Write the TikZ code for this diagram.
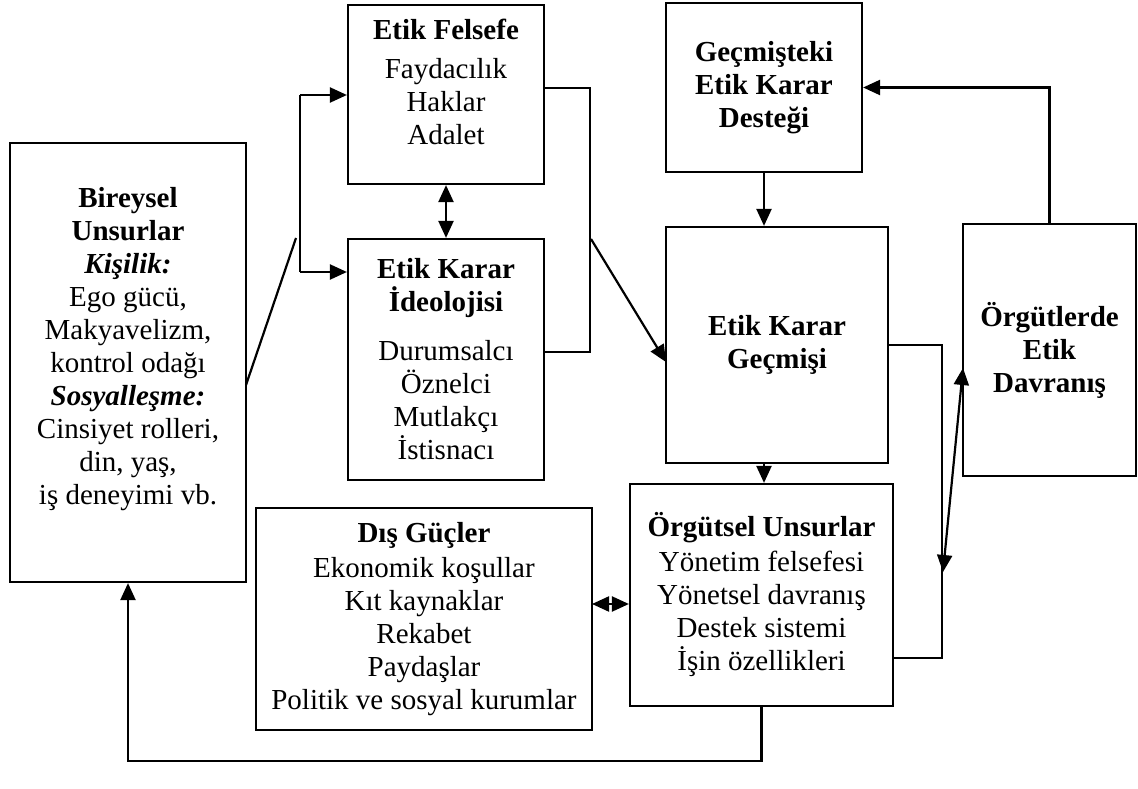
\documentclass[tikz,border=0pt]{standalone}
\usepackage{fontspec}
\setmainfont{Liberation Serif}
\usetikzlibrary{arrows.meta,positioning,calc}

\begin{document}
\begin{tikzpicture}[x=1pt, y=-1pt,
  every node/.style={font=\fontsize{29}{33}\selectfont},
  kutu/.style={draw, line width=2.2pt, align=center, inner sep=0pt},
  hat/.style={line width=2.2pt},
  ok/.style={line width=2.2pt, -{Triangle[length=17pt, width=15pt]}},
  ciftok/.style={line width=2.2pt, {Triangle[length=17pt, width=15pt]}-{Triangle[length=17pt, width=15pt]}}]

  \useasboundingbox (0,0) rectangle (1138,789);

  % ---- Boxes ----
  % Left: individual factors
  \node[kutu, minimum width=236pt, minimum height=439pt] (bireysel) at (128,362.5)
    {\textbf{Bireysel}\\ \textbf{Unsurlar}\\ \textbf{\textit{Kişilik:}}\\ Ego gücü,\\ Makyavelizm,\\
     kontrol odağı\\ \textbf{\textit{Sosyalleşme:}}\\ Cinsiyet rolleri,\\ din, yaş,\\ iş deneyimi vb.\\ \mbox{}};

  % Middle column
  \node[kutu, minimum width=196pt, minimum height=179pt] (felsefe) at (446,94.5)
    {\textbf{Etik Felsefe}\\[6pt] Faydacılık\\ Haklar\\ Adalet\\[-8pt] \mbox{}};
  \node[kutu, minimum width=196pt, minimum height=241pt] (ideoloji) at (446,359.5)
    {\textbf{Etik Karar}\\ \textbf{İdeolojisi}\\[16pt] Durumsalcı\\ Öznelci\\ Mutlakçı\\ İstisnacı};

  % Right column
  \node[kutu, minimum width=196pt, minimum height=169pt] (destek) at (764,87.5)
    {\textbf{Geçmişteki}\\ \textbf{Etik Karar}\\ \textbf{Desteği}};
  \node[kutu, minimum width=222pt, minimum height=236pt] (gecmis) at (777,345)
    {\textbf{Etik Karar}\\ \textbf{Geçmişi}};
  \node[kutu, minimum width=173pt, minimum height=252pt] (davranis) at (1049.5,350)
    {\textbf{Örgütlerde}\\ \textbf{Etik}\\ \textbf{Davranış}};

  % Bottom row
  \node[kutu, minimum width=336pt, minimum height=222pt] (disguc) at (424,619)
    {\textbf{Dış Güçler}\\[2pt] Ekonomik koşullar\\ Kıt kaynaklar\\ Rekabet\\ Paydaşlar\\ Politik ve sosyal kurumlar};
  \node[kutu, minimum width=263pt, minimum height=222pt] (orgutsel) at (761.5,595)
    {\textbf{Örgütsel Unsurlar}\\[2pt] Yönetim felsefesi\\ Yönetsel davranış\\ Destek sistemi\\ İşin özellikleri};

  % ---- Helper points ----
  \coordinate (solust) at (300,95);
  \coordinate (solalt) at (300,272);
  \coordinate (capraz1) at (296,238);
  \coordinate (capraz0) at (246,385);
  \coordinate (sagust) at (590,88);
  \coordinate (sagalt) at (590,352);
  \coordinate (sagcikis) at (591,239);
  \coordinate (giris) at (666,362);
  \coordinate (kose) at (942,658);
  \coordinate (ciftalt) at (943,572);
  \coordinate (cifust) at (963,368);
  \coordinate (disok) at (592,604);

  % ---- Left bracket ----
  \draw[hat] (capraz0) -- (capraz1);
  \draw[hat] (solust) -- (solalt);
  \draw[ok] (solust) -- (solust -| felsefe.west);
  \draw[ok] (solalt) -- (solalt -| ideoloji.west);
  \draw[ciftok] (felsefe.south) -- (ideoloji.north);

  % ---- Right bracket ----
  \draw[hat] (sagust -| felsefe.east) -- (sagust) -- (sagalt) -- (sagalt -| ideoloji.east);
  \draw[ok] (sagcikis) -- (giris);

  % ---- Right column ----
  \draw[ok] (destek.south) -- (destek.south |- gecmis.north);
  \draw[ok] (gecmis.south -| destek.south) -- (destek.south |- orgutsel.north);
  \draw[hat] (gecmis.east) -| (kose) -- (kose -| orgutsel.east);
  \draw[ciftok] (ciftalt) -- (cifust);
  \draw[ok] (davranis.north) |- (destek.east);

  % ---- Bottom ----
  \draw[ciftok] (disok) -- (disok -| orgutsel.west);
  \draw[ok] (orgutsel.south) -- ++(0,54) -| (bireysel.south);

\end{tikzpicture}
\end{document}
